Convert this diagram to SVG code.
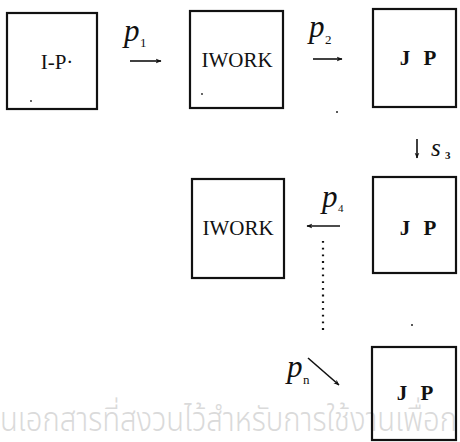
<svg xmlns="http://www.w3.org/2000/svg" width="460" height="442" viewBox="0 0 460 442">
  <style>
    .box { fill: none; stroke: #111; stroke-width: 2.2; }
    .lbl { font-family: "Liberation Serif", "DejaVu Serif", serif; font-size: 21px; fill: #111; text-anchor: middle; }
    .jp { font-weight: bold; word-spacing: 8px; }
    .p { font-family: "Liberation Serif", "DejaVu Serif", serif; font-style: italic; font-size: 31px; fill: #111; }
    .sub { font-family: "Liberation Serif", "DejaVu Serif", serif; font-size: 13px; fill: #111; }
    .arr { stroke: #111; stroke-width: 1.6; fill: none; marker-end: url(#head); }
    .dots { stroke: #111; stroke-width: 2.2; stroke-dasharray: 1.8 4.9; fill: none; }
    .wm { font-family: "Noto Sans", "Noto Sans Thai", "DejaVu Sans", sans-serif; font-size: 34px; font-weight: 300; fill: #dadada; }
    .speck { fill: #222; }
  </style>
  <defs>
    <marker id="head" viewBox="0 0 10 10" refX="9" refY="5" markerWidth="6" markerHeight="6" orient="auto" markerUnits="userSpaceOnUse">
      <path d="M0,1 L10,5 L0,9 L3,5 Z" fill="#111"/>
    </marker>
  </defs>

  <!-- faint background text along the bottom -->
  <text class="wm" x="0" y="431" textLength="457" lengthAdjust="spacingAndGlyphs">นเอกสารที่สงวนไว้สำหรับการใช้งานเพื่อก</text>

  <g id="node-ip">
    <rect class="box" x="7" y="13" width="90" height="96"/>
    <text class="lbl" x="57" y="69">I-P·</text>
    <circle class="speck" cx="31" cy="101" r="0.9"/>
  </g>

  <g id="node-iwork-1">
    <rect class="box" x="190" y="11" width="93" height="97"/>
    <text class="lbl" x="237" y="67">IWORK</text>
    <circle class="speck" cx="202" cy="94" r="0.9"/>
  </g>

  <g id="node-jp-1">
    <rect class="box" x="373" y="9" width="83" height="98"/>
    <text class="lbl jp" x="418" y="65">J P</text>
  </g>

  <g id="node-jp-2">
    <rect class="box" x="373" y="177" width="83" height="96"/>
    <text class="lbl jp" x="418" y="235">J P</text>
  </g>

  <g id="node-iwork-2">
    <rect class="box" x="192" y="179" width="92" height="99"/>
    <text class="lbl" x="238" y="235">IWORK</text>
  </g>

  <g id="node-jp-3">
    <rect class="box" x="372" y="347" width="84" height="93"/>
    <text class="lbl jp" x="415" y="400">J P</text>
  </g>

  <g id="connectors">
    <!-- p1 -->
    <line class="arr" x1="130" y1="61" x2="161" y2="61"/>
    <text class="p" x="124" y="41">p</text>
    <text class="sub" x="140" y="47">1</text>
    <!-- p2 -->
    <line class="arr" x1="313" y1="59" x2="342" y2="59"/>
    <text class="p" x="309" y="37">p</text>
    <text class="sub" x="325" y="44">2</text>
    <!-- s3 -->
    <line class="arr" x1="417" y1="139" x2="417" y2="158"/>
    <text class="p" x="431" y="156" style="font-size:25px">s</text>
    <text class="sub" x="445" y="159" style="font-weight:bold;font-size:11px">3</text>
    <!-- p4 -->
    <line class="arr" x1="340" y1="226" x2="307" y2="226"/>
    <text class="p" x="322" y="207">p</text>
    <text class="sub" x="338" y="212" style="font-size:11px">4</text>
    <!-- continuation -->
    <line class="dots" x1="323" y1="241" x2="323" y2="330"/>
    <!-- pn -->
    <line class="arr" x1="308" y1="358" x2="339" y2="385"/>
    <text class="p" x="287" y="377">p</text>
    <text class="sub" x="303" y="384">n</text>
    <circle class="speck" cx="337" cy="112" r="1"/>
    <circle class="speck" cx="412" cy="325" r="1"/>
  </g>
</svg>
